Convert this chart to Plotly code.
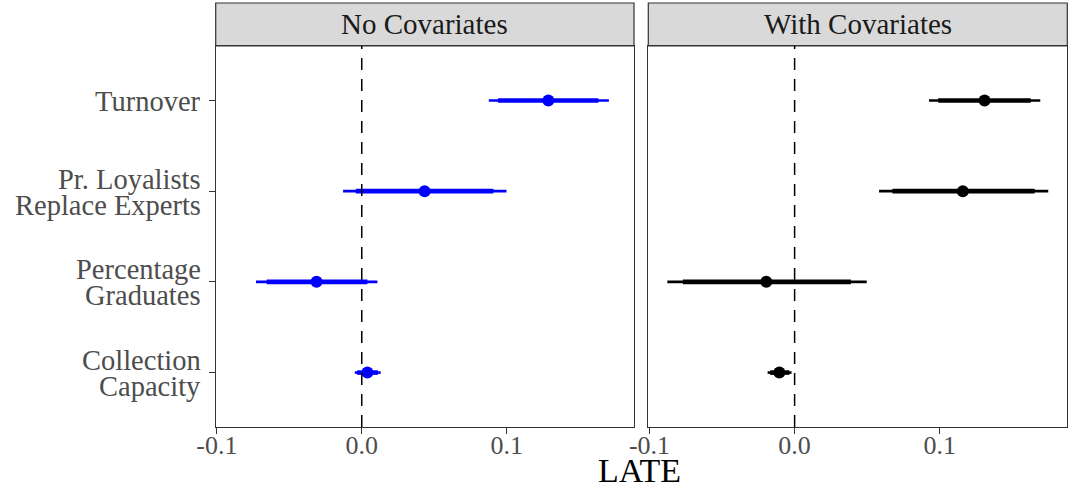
import plotly.graph_objects as go

# ---- data ----
categories = ["Turnover", "Pr. Loyalists<br>Replace Experts", "Percentage<br>Graduates", "Collection<br>Capacity"]
cat_pos = [4, 3, 2, 1]
panels = ["No Covariates", "With Covariates"]

est_nocov = [0.1288, 0.0434, -0.0312, 0.0039]
lo95_nocov = [0.0877, -0.0129, -0.0730, -0.0048]
hi95_nocov = [0.1706, 0.0999, 0.0108, 0.0131]
lo90_nocov = [0.0941, -0.0041, -0.0656, -0.0032]
hi90_nocov = [0.1634, 0.0909, 0.0039, 0.0112]

est_cov = [0.1309, 0.1159, -0.0195, -0.0105]
lo95_cov = [0.0926, 0.0582, -0.0877, -0.0186]
hi95_cov = [0.1693, 0.1748, 0.0497, -0.0021]
lo90_cov = [0.0990, 0.0674, -0.0770, -0.0169]
hi90_cov = [0.1627, 0.1654, 0.0388, -0.0036]

x_ticks = [-0.1, 0.0, 0.1]
x_ticktext = ["-0.1", "0.0", "0.1"]

# ---- figure ----
W, H = 1069, 490
FONT = "Liberation Serif"
fig = go.Figure()


def seg(lo, hi, ys):
    xs, yy = [], []
    for a, b, y in zip(lo, hi, ys):
        xs += [a, b, None]
        yy += [y, y, None]
    return xs, yy


series = [
    (est_nocov, lo95_nocov, hi95_nocov, lo90_nocov, hi90_nocov, "#0000FF", "x", "y"),
    (est_cov, lo95_cov, hi95_cov, lo90_cov, hi90_cov, "#000000", "x2", "y2"),
]
for est, l95, h95, l90, h90, col, xa, ya in series:
    xs, ys = seg(l95, h95, cat_pos)
    fig.add_trace(go.Scatter(x=xs, y=ys, mode="lines", line=dict(color=col, width=2.6),
                             xaxis=xa, yaxis=ya, showlegend=False, hoverinfo="skip"))
    xs, ys = seg(l90, h90, cat_pos)
    fig.add_trace(go.Scatter(x=xs, y=ys, mode="lines", line=dict(color=col, width=4.6),
                             xaxis=xa, yaxis=ya, showlegend=False, hoverinfo="skip"))
    fig.add_trace(go.Scatter(x=est, y=cat_pos, mode="markers",
                             marker=dict(color=col, size=12),
                             xaxis=xa, yaxis=ya, showlegend=False))

xmin = min(lo95_nocov + lo95_cov)
xmax = max(hi95_nocov + hi95_cov)
pad = (xmax - xmin) * 0.05
xrange = [xmin - pad, xmax + pad]

dom_l = [215.7 / W, 634.0 / W]
dom_r = [648.3 / W, 1067.3 / W]
ydom = [1 - 427.0 / H, 1 - 46.0 / H]

axis_common = dict(showline=True, mirror=True, linecolor="#333333", linewidth=1.2,
                   showgrid=False, zeroline=False, ticks="outside", ticklen=6,
                   tickcolor="#333333", tickwidth=1.1, automargin=False)
xtickfont = dict(family=FONT, size=26, color="#4D4D4D")

fig.update_layout(
    width=W, height=H,
    margin=dict(l=0, r=0, t=0, b=0, autoexpand=False),
    paper_bgcolor="white", plot_bgcolor="white",
    xaxis=dict(domain=dom_l, range=xrange, anchor="y", tickvals=x_ticks, ticktext=x_ticktext,
               tickfont=xtickfont, ticklabelstandoff=-11, **axis_common),
    xaxis2=dict(domain=dom_r, range=xrange, anchor="y2", tickvals=x_ticks, ticktext=x_ticktext,
                tickfont=xtickfont, ticklabelstandoff=-11, **axis_common),
    yaxis=dict(domain=ydom, range=[0.4, 4.6], anchor="x", tickvals=cat_pos,
               showticklabels=False, **axis_common),
    yaxis2=dict(domain=ydom, range=[0.4, 4.6], anchor="x2", tickvals=cat_pos,
                showticklabels=False, ticks="", showline=True, mirror=True, automargin=False,
                linecolor="#333333", linewidth=1.2, showgrid=False, zeroline=False),
    showlegend=False,
)

# category labels (two-line labels with tight line spacing, as in the reference)
for lab, y in zip(categories, cat_pos):
    lines = lab.split("<br>")
    n = len(lines)
    for i, ln in enumerate(lines):
        shift = (n - 1) * 13 - i * 26
        fig.add_annotation(text=ln, x=202.5 / W, xref="paper", xanchor="right",
                           y=y, yref="y", yanchor="middle", yshift=shift - 1,
                           showarrow=False, font=dict(family=FONT, size=28.5, color="#4D4D4D"))

# reference dashed lines at zero
for xr, yr in [("x", "y domain"), ("x2", "y2 domain")]:
    fig.add_shape(type="line", xref=xr, yref=yr, x0=0, x1=0, y0=0, y1=1,
                  line=dict(color="black", width=1.5, dash="12px,9px"))

# facet strips
strip_top = 1 + (46.0 - 3.0) / 381.0
for name, xr in zip(panels, ["x domain", "x2 domain"]):
    fig.add_shape(type="rect", xref=xr, yref="y domain", x0=0, x1=1, y0=1, y1=strip_top,
                  fillcolor="#D9D9D9", line=dict(color="#333333", width=1.2), layer="below")
    fig.add_annotation(text=name, xref=xr, yref="y domain", x=0.5, y=(1 + strip_top) / 2,
                       xanchor="center", yanchor="middle", showarrow=False,
                       font=dict(family=FONT, size=29, color="#1A1A1A"))

# x axis title
fig.add_annotation(text="LATE", xref="paper", yref="paper", x=639.0 / W, y=1 - 470.0 / H,
                   xanchor="center", yanchor="middle", showarrow=False,
                   font=dict(family=FONT, size=34, color="black"))

fig.write_html("out.html")
